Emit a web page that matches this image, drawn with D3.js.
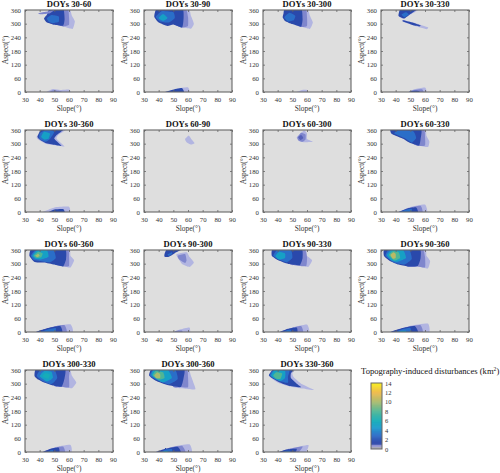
<!DOCTYPE html>
<html><head><meta charset="utf-8">
<script src="https://cdn.jsdelivr.net/npm/d3@7"></script>
<style>html,body{margin:0;padding:0;background:#fff}svg{display:block}text{font-family:"Liberation Serif",serif}</style>
</head><body><svg id="c" width="500" height="473"></svg>
<script>
const xTicks=[30,40,50,60,70,80,90];
const yTicks=[0,60,120,180,240,300,360];
const barTicks=[0,2,4,6,8,10,12,14];
const titles=["DOYs 30-60","DOYs 30-90","DOYs 30-300","DOYs 30-330","DOYs 30-360","DOYs 60-90","DOYs 60-300","DOYs 60-330","DOYs 60-360","DOYs 90-300","DOYs 90-330","DOYs 90-360","DOYs 300-330","DOYs 300-360","DOYs 330-360"];
// each entry: [disturbance level km2, outline as [slope, aspect] pairs]
const d3060=[
[.4,[[48,368],[60,368],[62,335],[64,310],[62.5,277],[58,284],[52,295],[50,330]]],
[.8,[[48,368],[59,368],[60,330],[60,295],[56,288],[50,310]]],
[1.5,[[47,368],[56,368],[57,320],[56,291],[50,295],[45,305],[43,322],[45,340]]],
[3,[[45,324],[48,338],[53,332],[53,308],[49,302],[46,310]]],
[.8,[[39,345],[44,352],[50,360],[47,346],[41,341]]],
[.4,[[43,-8],[49,13],[54,9],[60,11],[61,-8]]],
[.8,[[45,-8],[49,8],[53,5],[58,-8]]]];
const d3090=[
[.4,[[42,368],[60,368],[62,335],[64,300],[62,278],[56,284],[50,300]]],
[.8,[[42,368],[58,368],[60,330],[60,290],[56,283],[50,300]]],
[1.5,[[39,368],[56,368],[57,325],[56,283],[50,296],[46,290],[40,305],[37,330]]],
[3,[[38,330],[42,355],[50,350],[51,325],[47,305],[41,310]]],
[5,[[40,325],[43,342],[46,325],[43,312]]],
[.4,[[48,-8],[53,15],[60,21],[61,-8]]],
[1.5,[[41,-8],[49,9],[56,17],[57,-8]]]];
const d30300=[
[.4,[[50,368],[60,368],[62,335],[64,305],[62,277],[57,285],[52,300]]],
[.8,[[48,368],[59,368],[60,330],[60,290],[56,285],[52,300]]],
[1.5,[[45,368],[56,368],[57,320],[56,287],[50,298],[45,312],[43.4,328],[44,345]]],
[3,[[44.5,328],[48,348],[52,335],[51,315],[47,310]]],
[.4,[[50,-8],[56,8],[60,9],[60,-8]]]];
const d30330=[
[.4,[[44,368],[57,368],[50,340],[45,322],[42,335]]],
[1.5,[[43.5,365],[55.5,368],[50,342],[46,323],[42,334]]],
[3,[[44,340],[47,350],[49,340],[46,328]]],
[.4,[[45,316],[52,305],[62,284],[61,276],[52,292],[45,308]]],
[1.5,[[45,315],[52,304],[57,292],[56,288],[51,295],[45,309]]],
[.4,[[47,-8],[53,13],[60,20],[61,-8]]],
[.8,[[47,-8],[53,9],[58,12],[59,-8]]],
[1.5,[[47,-8],[51,5],[56,4],[56,-8]]]];
const d30360=[
[.4,[[44,368],[59,368],[53,340],[51.5,322],[57,288],[52,292],[44,300],[39,318],[38,332]]],
[1.5,[[42,368],[57,368],[52,340],[50,322],[55,290],[50,295],[44,303],[40,318],[38.5,332]]],
[3,[[40,345],[45,362],[50,352],[47,320],[44,308],[40,320]]],
[5,[[41,330],[43,352],[47,345],[46,322],[43,318]]],
[.4,[[40,-8],[50,20],[60,23],[60,-8]]],
[1.5,[[44,-8],[50,11],[56,13],[57,-8]]]];
const d6090=[
[.4,[[58,320],[60.5,336],[62.5,318],[64.5,302],[62,296],[59,306]]]];
const d60300=[
[.4,[[53,328],[58,358],[60,345],[60,320],[64,308],[59,306],[55,310]]],
[.8,[[53.5,328],[56,348],[59,340],[59,318],[57,308],[54,315]]],
[1.1,[[54,328],[56,338],[57.5,325],[55.5,316]]]];
const d60330=[
[.4,[[47,368],[60,368],[61,335],[63,310],[62,285],[56,292],[50,310]]],
[.8,[[45,368],[59,368],[60,330],[60,292],[55,290],[50,310]]],
[1.5,[[37,368],[57,368],[57,320],[56,292],[50,303],[45,322],[40,335],[37,345]]],
[3,[[39,345],[42,358],[52,355],[54,325],[51,305],[46,325]]],
[.4,[[40,-8],[50,22],[60,33],[61,-8]]],
[.8,[[40,-8],[50,20],[57,27],[58,-8]]],
[1.5,[[40,-8],[48,15],[54,20],[55,-8]]],
[3,[[41,-8],[46,8],[51,14],[50,-8]]]];
const d60360=[
[.4,[[44,368],[60,368],[61,335],[63.5,315],[61,283],[56,290],[50,300]]],
[.8,[[42,368],[59,368],[60,330],[60,290],[56,288],[50,300]]],
[1.5,[[35,368],[57,368],[58,320],[56,288],[50,296],[43,305],[39,305],[36,310],[33,335]]],
[3,[[34,335],[37,358],[49,362],[51,325],[47,306],[40,312],[36,316]]],
[5,[[35,335],[38,358],[45,358],[46,330],[41,318],[37,322]]],
[8,[[36,335],[39,352],[42,345],[41,328],[38,325]]],
[10,[[37,335],[39,344],[40,335],[38.5,329]]],
[.4,[[35,-8],[50,25],[61,34],[62,-8]]],
[.8,[[35,-8],[50,24],[57,30],[58,-8]]],
[1.5,[[35,-8],[45,16],[54,26],[55,-8]]],
[3,[[38,-8],[45,10],[51,17],[50,-8]]]];
const d90300=[
[1.5,[[46,368],[57,368],[52,350],[47,330],[44,330],[44,342]]],
[3,[[46,340],[49,350],[49,342],[47,334]]],
[.4,[[52,340],[59,350],[61,330],[64,305],[61,285],[56,298]]],
[.8,[[53,335],[58,342],[59,315],[58,303],[54,318]]],
[.4,[[49,-8],[55,12],[61,20],[61,-8]]],
[.8,[[49,-8],[52,5],[56,6],[56,-8]]]];
const d90330=[
[.4,[[46,368],[59,368],[60,335],[63.5,315],[61,286],[57,292],[50,296]]],
[.8,[[44,368],[58,368],[60,330],[59.5,290],[55,290],[48,298]]],
[1.5,[[37,368],[56,368],[57,325],[55,293],[48,298],[45,303],[40,316],[36,335]]],
[3,[[37,335],[40,362],[49,360],[50,325],[46,306],[41,318]]],
[5,[[38.5,333],[41,352],[45,345],[45,325],[41,318]]],
[.4,[[39,-8],[50,20],[60,33],[61,-8]]],
[.8,[[39,-8],[50,19],[56,26],[57,-8]]],
[1.5,[[39,-8],[47,14],[53,20],[53,-8]]],
[3,[[42,-8],[46,7],[49,9],[49,-8]]]];
const d90360=[
[.4,[[45,368],[60,368],[61,335],[63.5,312],[62,279],[56,288],[49,288]]],
[.8,[[43,368],[58,368],[60,330],[60,284],[55,288],[48,288]]],
[1.5,[[33,368],[56,368],[57,325],[55,290],[48,288],[42,296],[36,312],[32,335]]],
[3,[[33,335],[36,365],[49,362],[51,320],[46,296],[39,305]]],
[5,[[34,337],[37,360],[45,360],[47,325],[41,308],[37,315]]],
[8,[[35.5,338],[38,354],[42,350],[43,325],[39,314]]],
[10.5,[[36.5,338],[38.5,350],[40,342],[40,325],[38,322]]],
[.4,[[34,-8],[50,27],[62,37],[62,-8]]],
[.8,[[34,-8],[50,25],[57,30],[58,-8]]],
[1.5,[[34,-8],[44,16],[53,26],[55,-8]]],
[3,[[37,-8],[44,11],[50,18],[50,-8]]],
[5,[[40,-8],[44,5],[47,5],[47,-8]]]];
const d300330=[
[.4,[[46,368],[60,368],[62,335],[65,305],[62,280],[56,285],[50,290]]],
[.8,[[46,368],[60,368],[60,330],[60,284],[55,287],[50,291]]],
[1.5,[[38,368],[57,368],[57,325],[55,287],[49,292],[43,305],[39,318],[36.5,334]]],
[3,[[38,334],[41,362],[50,360],[52,325],[48,298],[42,312]]],
[5,[[40,333],[43,355],[48,352],[49,325],[45,310]]],
[6,[[42,332],[44,347],[47,340],[46,322]]],
[.4,[[40,-8],[50,20],[61,31],[61,-8]]],
[.8,[[40,-8],[50,18],[56,24],[57,-8]]],
[1.5,[[40,-8],[47,13],[53,19],[53,-8]]],
[3,[[43,-8],[47,6],[49,8],[49,-8]]]];
const d300360=[
[.4,[[48,368],[60,368],[62,335],[64,300],[65,275],[58,278],[50,285]]],
[.8,[[46,368],[59,368],[60,330],[60,284],[55,285],[50,287]]],
[1.5,[[36,368],[57,368],[57,325],[55,285],[46,294],[38,313],[33.5,336]]],
[3,[[34,336],[37,366],[51,362],[53,320],[47,297],[39,316]]],
[5,[[35,338],[37,362],[46,362],[49,325],[43,306],[38,322]]],
[8,[[36,336],[38,356],[43,350],[44,325],[40,318]]],
[10,[[37,336],[39,350],[41,342],[41,325],[38.5,324]]],
[.4,[[36,-8],[50,24],[61,34],[62,-8]]],
[.8,[[36,-8],[50,22],[56,27],[58,-8]]],
[1.5,[[36,-8],[45,15],[53,23],[55,-8]]],
[3,[[39,-8],[45,11],[49,13],[49,-8]]],
[5,[[41,-8],[44,4],[46,4],[46,-8]]]];
const d330360=[
[.4,[[42,368],[52,368],[50,345],[51,328],[56,300],[65,272],[57,279],[48,288],[40,305],[34,336]]],
[1.5,[[38,368],[51,368],[49,345],[49,325],[53,300],[56,284],[48,290],[41,306],[34,336]]],
[3,[[34.5,336],[38,366],[48,362],[47,330],[47,304],[41,312]]],
[5,[[35.5,336],[38,360],[45,356],[45,325],[42,312],[38,322]]],
[8,[[37,336],[39,350],[43,345],[42,322],[39,322]]],
[.4,[[38,-8],[50,17],[61,31],[58,-8]]],
[.8,[[38,-8],[48,14],[57,24],[53,-8]]],
[1.5,[[38,-8],[46,11],[53,14],[51,-8]]],
[3,[[41,-8],[46,5],[49,5],[47,-8]]]];
const panels=[d3060,d3090,d30300,d30330,d30360,d6090,d60300,d60330,d60360,d90300,d90330,d90360,d300330,d300360,d330360];
const legendTitle="Topography-induced disturbances (km";
const barLow=[[0,.45,"#a9a9b8"],[.45,.9,"#8e90cf"]];

const colorDomain=[.4,.8,1.1,1.5,3,4.5,6,8,10,12,14];
const colorRange=["#b2b5e1","#7f86cd","#5560b8","#2c48ab","#2a6ec8","#1c9acc","#14adb8","#50b695","#a8bb6e","#eeb84a","#f8ee18"];
const color=d3.scaleLinear().domain(colorDomain).range(colorRange).clamp(true);

const svg=d3.select("#c");
const defs=svg.append("defs");
defs.append("filter").attr("id","soft").append("feGaussianBlur").attr("stdDeviation",.7);
const cols=[25,144,263,381], rows=[10,130,250,370], pw=88, ph=82;
const ink="#333", frame="#666";

panels.forEach((shapes,i)=>{
  const x0=cols[i%4], y0=rows[Math.floor(i/4)];
  const g=svg.append("g").attr("transform",`translate(${x0},${y0})`);
  const x=d3.scaleLinear().domain([30,90]).range([0,pw]);
  const y=d3.scaleLinear().domain([0,360]).range([ph,0]);
  defs.append("clipPath").attr("id","cp"+i).append("rect").attr("width",pw).attr("height",ph);
  g.append("rect").attr("width",pw).attr("height",ph).attr("fill","#dedede");
  const line=d3.line().x(d=>x(d[0])).y(d=>y(d[1])).curve(d3.curveCardinalClosed.tension(.55));
  g.append("g").attr("clip-path",`url(#cp${i})`).append("g").attr("filter","url(#soft)")
    .selectAll("path").data(shapes).join("path")
    .attr("d",d=>line(d[1])).attr("fill",d=>color(d[0]));
  g.append("g").attr("transform",`translate(0,${ph})`).call(d3.axisBottom(x).tickValues(xTicks).tickSize(-2).tickPadding(5));
  g.append("g").call(d3.axisLeft(y).tickValues(yTicks).tickSize(-2).tickPadding(4));
  g.append("g").call(d3.axisTop(x).tickValues(xTicks).tickSize(-2).tickFormat(""));
  g.append("g").attr("transform",`translate(${pw},0)`).call(d3.axisRight(y).tickValues(yTicks).tickSize(-2).tickFormat(""));
  g.selectAll(".domain").remove();
  g.selectAll(".tick line").attr("stroke",frame).attr("stroke-width",.8);
  g.selectAll(".tick text").attr("font-size",6.8).attr("fill",ink).style("font-family",'"Liberation Serif",serif');
  g.append("rect").attr("width",pw).attr("height",ph).attr("fill","none").attr("stroke",frame).attr("stroke-width",1.1);
  g.append("text").attr("x",pw/2).attr("y",-3).attr("text-anchor","middle").attr("font-size",8.6).attr("font-weight","bold").attr("fill","#111").text(titles[i]);
  g.append("text").attr("x",pw/2).attr("y",ph+19).attr("text-anchor","middle").attr("font-size",7.4).attr("fill",ink).text("Slope(°)");
  g.append("text").attr("transform",`translate(-17,${ph/2-1}) rotate(-90)`).attr("text-anchor","middle").attr("font-size",7.4).attr("fill",ink).text("Aspect(°)");
});

// colour bar
const barY=d3.scaleLinear().domain([0,14]).range([449,383]);
const barG=svg.append("g");
const steps=d3.range(.9,14,.1);
barG.selectAll("rect.s").data(steps).join("rect").attr("class","s")
  .attr("x",371).attr("width",11).attr("y",d=>barY(d+.1)).attr("height",d=>barY(d)-barY(d+.1)+.4)
  .attr("fill",d=>color(Math.max(d,1.5)));
barG.selectAll("rect.l").data(barLow).join("rect").attr("class","l")
  .attr("x",371).attr("width",11).attr("y",d=>barY(d[1])).attr("height",d=>barY(d[0])-barY(d[1])).attr("fill",d=>d[2]);
barG.append("rect").attr("x",371).attr("y",383).attr("width",11).attr("height",66).attr("fill","none").attr("stroke",frame).attr("stroke-width",1);
barG.append("g").attr("transform","translate(382,0)").call(d3.axisRight(barY).tickValues(barTicks).tickSize(0).tickPadding(3))
  .call(a=>a.select(".domain").remove())
  .selectAll("text").attr("font-size",6.5).attr("fill",ink).style("font-family",'"Liberation Serif",serif');
const lt=svg.append("text").attr("x",361).attr("y",374).attr("font-size",8.6).attr("fill","#111").text(legendTitle);
lt.append("tspan").attr("font-size",5.6).attr("dy",-3).text("2");
lt.append("tspan").attr("dy",3).text(")");
</script></body></html>
